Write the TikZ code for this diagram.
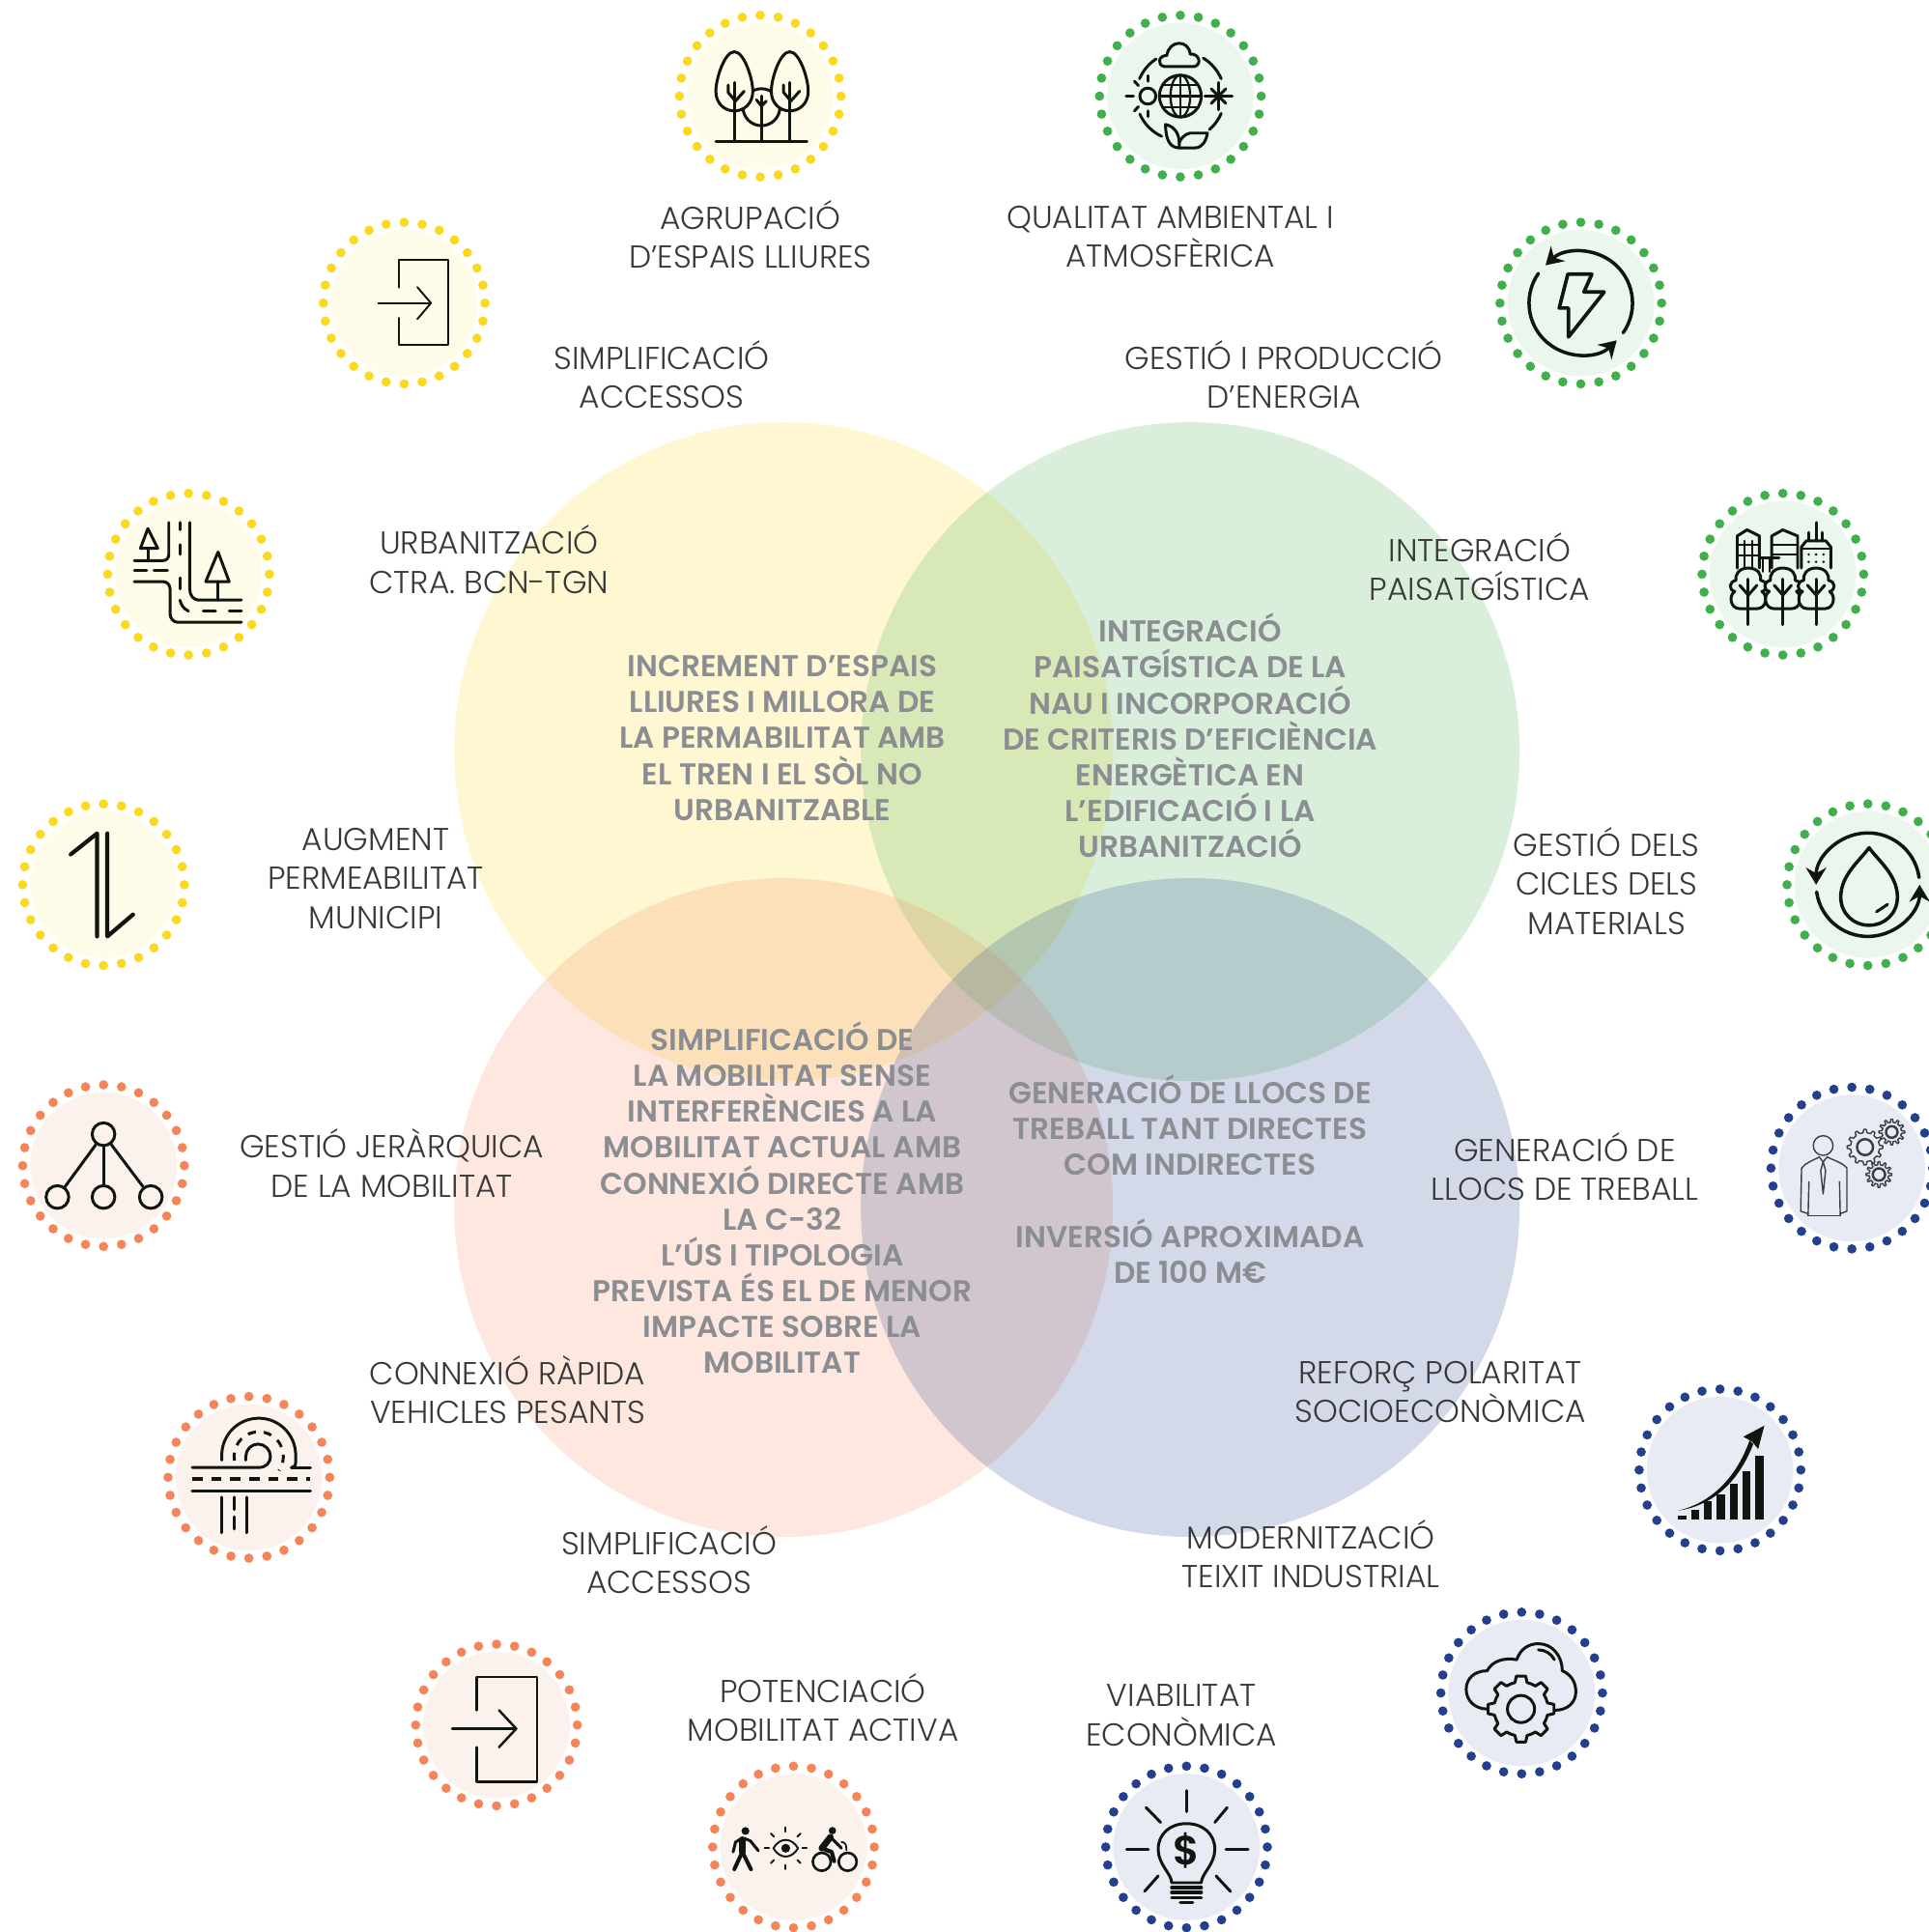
\documentclass[tikz,border=0pt]{standalone}
\usepackage{fontspec}
\setmainfont{Poppins Light}
\newfontfamily\boldface{Poppins SemiBold}
\usetikzlibrary{arrows.meta}

\definecolor{dotyellow}{HTML}{FBD91F}
\definecolor{dotgreen}{HTML}{3FB04B}
\definecolor{dotorange}{HTML}{F58558}
\definecolor{dotblue}{HTML}{23408F}
\definecolor{paleyellow}{HTML}{FEFBE9}
\definecolor{palegreen}{HTML}{EBF6EC}
\definecolor{paleorange}{HTML}{FBF2ED}
\definecolor{paleblue}{HTML}{E8EBF3}
\definecolor{ink}{HTML}{111510}
\definecolor{softink}{HTML}{3A3D42}
\definecolor{lbltext}{HTML}{383838}
\definecolor{venntext}{HTML}{8A8D92}

\tikzset{
	badge/.style={circle, minimum size=1.518cm, inner sep=0pt},
	lbl/.style={align=center, text=lbltext, inner sep=0pt, font=\fontsize{9.34}{11.46}\selectfont},
	venntxt/.style={align=center, text=venntext, inner sep=0pt, font=\boldface\fontsize{8.87}{10.58}\selectfont},
	venn/.style={circle, minimum size=6.82cm, inner sep=0pt, fill opacity=0.2},
	icon/.style={draw=ink, line width=0.85pt, line cap=round, line join=round},
	thinicon/.style={draw=softink, line width=0.4pt, line cap=round, line join=round},
	fatline/.style={draw=ink, line width=1.3pt, line cap=round, line join=round},
	netdot/.style={circle, draw=ink, line width=0.85pt, minimum size=0.235cm, inner sep=0pt},
	ringtip/.style={-{Stealth[length=5pt, width=6pt]}},
}

\newcommand{\dotring}[2]{
	\foreach \a in {0,12.857,...,359}
		\fill[#2] (#1.center) ++(\a:65.6) circle (3.8);
}

\newcommand{\cogwheel}[2]{
	\begin{scope}[shift={#1}]
		\foreach \a in {0,30,...,330}
			\draw[thinicon] ({\a-8}:{#2-2.6}) -- ({\a-4}:#2) -- ({\a+4}:#2) -- ({\a+8}:{#2-2.6}) -- ({\a+22}:{#2-2.6});
	\end{scope}
}

\begin{document}
\begin{tikzpicture}[x=0.012755cm, y=-0.012755cm]
	\useasboundingbox (0,0) rectangle (1565,1568);

	\node[venn, fill=dotyellow] (yellowset) at (636,610) {};
	\node[venn, fill=dotgreen] (greenset) at (966,610) {};
	\node[venn, fill=dotorange] (orangeset) at (636,980) {};
	\node[venn, fill=dotblue] (blueset) at (966,980) {};

	\node[venntxt] (envtext) at (635,599) {INCREMENT D’ESPAIS\\LLIURES I MILLORA DE\\LA PERMABILITAT AMB\\EL TREN I EL SÒL NO\\URBANITZABLE};
	\node[venntxt] (energytext) at (966,597) {INTEGRACIÓ\\PAISATGÍSTICA DE LA\\NAU I INCORPORACIÓ\\DE CRITERIS D’EFICIÈNCIA\\ENERGÈTICA EN\\L’EDIFICACIÓ I LA\\URBANITZACIÓ};
	\node[venntxt] (mobtext) at (635,972) {SIMPLIFICACIÓ DE\\LA MOBILITAT SENSE\\INTERFERÈNCIES A LA\\MOBILITAT ACTUAL AMB\\CONNEXIÓ DIRECTE AMB\\LA C-32\\L’ÚS I TIPOLOGIA\\PREVISTA ÉS EL DE MENOR\\IMPACTE SOBRE LA\\MOBILITAT};
	\node[venntxt] (econtext) at (966,957) {GENERACIÓ DE LLOCS DE\\TREBALL TANT DIRECTES\\COM INDIRECTES\\[10.58pt]INVERSIÓ APROXIMADA\\DE 100 M€};

	\node[badge, fill=paleyellow] (trees) at (617,78) {};
	\node[badge, fill=palegreen] (climate) at (958,78) {};
	\node[badge, fill=paleyellow] (door) at (328,246) {};
	\node[badge, fill=palegreen] (bolt) at (1283,246) {};
	\node[badge, fill=paleyellow] (road) at (153,466) {};
	\node[badge, fill=palegreen] (city) at (1447,466) {};
	\node[badge, fill=paleyellow] (updown) at (84,718) {};
	\node[badge, fill=palegreen] (water) at (1516,718) {};
	\node[badge, fill=paleorange] (network) at (84,946) {};
	\node[badge, fill=paleblue] (worker) at (1503,948) {};
	\node[badge, fill=paleorange] (junction) at (202,1199) {};
	\node[badge, fill=paleblue] (chart) at (1396,1193) {};
	\node[badge, fill=paleorange] (doortwo) at (403,1400) {};
	\node[badge, fill=paleblue] (cloud) at (1235,1374) {};
	\node[badge, fill=paleorange] (active) at (644,1499) {};
	\node[badge, fill=paleblue] (bulb) at (963,1499) {};

	\dotring{trees}{dotyellow}
	\dotring{door}{dotyellow}
	\dotring{road}{dotyellow}
	\dotring{updown}{dotyellow}
	\dotring{climate}{dotgreen}
	\dotring{bolt}{dotgreen}
	\dotring{city}{dotgreen}
	\dotring{water}{dotgreen}
	\dotring{network}{dotorange}
	\dotring{junction}{dotorange}
	\dotring{doortwo}{dotorange}
	\dotring{active}{dotorange}
	\dotring{worker}{dotblue}
	\dotring{chart}{dotblue}
	\dotring{cloud}{dotblue}
	\dotring{bulb}{dotblue}

	\node[lbl] (agrupacio) at (609,190) {AGRUPACIÓ\\D’ESPAIS LLIURES};
	\node[lbl] (qualitat) at (950,192) {QUALITAT AMBIENTAL I\\ATMOSFÈRICA};
	\node[lbl] (accessos) at (537,304) {SIMPLIFICACIÓ\\ACCESSOS};
	\node[lbl] (energia) at (1042,304) {GESTIÓ I PRODUCCIÓ\\D’ENERGIA};
	\node[lbl] (ctra) at (397,454) {URBANITZACIÓ\\CTRA. BCN-TGN};
	\node[lbl] (paisatge) at (1201,460) {INTEGRACIÓ\\PAISATGÍSTICA};
	\node[lbl] (municipi) at (305,713) {AUGMENT\\PERMEABILITAT\\MUNICIPI};
	\node[lbl] (cicles) at (1304,715) {GESTIÓ DELS\\CICLES DELS\\MATERIALS};
	\node[lbl] (jerarquica) at (318,944) {GESTIÓ JERÀRQUICA\\DE LA MOBILITAT};
	\node[lbl] (llocs) at (1270,947) {GENERACIÓ DE\\LLOCS DE TREBALL};
	\node[lbl] (pesants) at (412,1128) {CONNEXIÓ RÀPIDA\\VEHICLES PESANTS};
	\node[lbl] (polaritat) at (1169,1130) {REFORÇ POLARITAT\\SOCIOECONÒMICA};
	\node[lbl] (accessostwo) at (543,1266) {SIMPLIFICACIÓ\\ACCESSOS};
	\node[lbl] (teixit) at (1064,1261) {MODERNITZACIÓ\\TEIXIT INDUSTRIAL};
	\node[lbl] (activa) at (668,1386) {POTENCIACIÓ\\MOBILITAT ACTIVA};
	\node[lbl] (viable) at (959,1392) {VIABILITAT\\ECONÒMICA};

	\begin{scope}[shift={(trees.center)}]
		\draw[icon] (1,9) circle (15);
		\foreach \tx in {-21,24} {
			\draw[icon, fill=paleyellow] (\tx,-36) .. controls (\tx-8,-36) and (\tx-15,-14) .. (\tx-15,-4)
				.. controls (\tx-15,6) and (\tx-8,12) .. (\tx,12)
				.. controls (\tx+8,12) and (\tx+15,6) .. (\tx+15,-4)
				.. controls (\tx+15,-14) and (\tx+8,-36) .. (\tx,-36) -- cycle;
			\draw[icon] (\tx,-11) -- (\tx,37);
			\draw[icon] (\tx-5,-9) -- (\tx-5,-3) -- (\tx,3);
			\draw[icon] (\tx+8,-4) -- (\tx,5);
		}
		\draw[icon] (1,0) -- (1,37);
		\draw[icon] (-3,3) -- (1,8) -- (5,4);
		\draw[icon] (-36,37) -- (38,37);
	\end{scope}

	\begin{scope}[shift={(climate.center)}]
		\draw[icon] (0,0) circle (17);
		\draw[icon, line width=0.65pt] (0,0) ellipse (8 and 17);
		\draw[icon, line width=0.65pt] (0,-17) -- (0,17);
		\draw[icon, line width=0.65pt] (-17,0) -- (17,0);
		\draw[icon, line width=0.65pt] (-14,-9) -- (14,-9);
		\draw[icon, line width=0.65pt] (-14,9) -- (14,9);
		\draw[icon] (-26.4,0) circle (6.5);
		\draw[icon] (-44,0) -- (-38,0);
		\draw[icon] (-26.4,-16.5) -- (-26.4,-12);
		\draw[icon] (-26.4,12) -- (-26.4,16.5);
		\draw[icon] (-37.3,-12) -- (-34,-8.6);
		\draw[icon] (-37.3,12) -- (-34,8.6);
		\draw[icon] (20,0) -- (42,0);
		\draw[icon] (31,-11) -- (31,11);
		\draw[icon] (25,-6) -- (37,6);
		\draw[icon] (25,6) -- (37,-6);
		\draw[icon] (-13,-24) .. controls (-19,-25) and (-18,-33) .. (-11,-33)
			.. controls (-9,-46) and (7,-46) .. (8,-34)
			.. controls (15,-35) and (18,-26) .. (11.5,-24) -- cycle;
		\draw[icon] (203:36) arc[start angle=203, end angle=237, radius=36];
		\draw[icon] (301:36) arc[start angle=301, end angle=337, radius=36];
		\draw[icon] (23:36) arc[start angle=23, end angle=49, radius=36];
		\draw[icon] (115:36) arc[start angle=115, end angle=156, radius=36];
		\draw[icon] (-12,23) .. controls (-3,25) and (0,33) .. (-1,42)
			.. controls (-8,42) and (-12,36) .. (-12,23) -- cycle;
		\draw[icon] (-1,42) -- (12,42) .. controls (18,42) and (21,36) .. (22,30)
			-- (8,30) .. controls (3,31) and (0,35) .. (-1,38);
	\end{scope}

	\begin{scope}[shift={(door.center)}]
		\draw[icon, line width=0.55pt] (-4.4,-12.6) -- (-4.4,-35) -- (35.8,-35) -- (35.8,33.6) -- (-4.4,33.6) -- (-4.4,12);
		\draw[icon, line width=0.55pt] (-21,0) -- (21.8,0);
		\draw[icon, line width=0.55pt] (10.7,-13) -- (21.8,0) -- (10.7,13);
	\end{scope}

	\begin{scope}[shift={(doortwo.center)}]
		\draw[icon, line width=0.7pt] (-16,-12) -- (-16,-39) -- (33,-39) -- (33,46) -- (-16,46) -- (-16,18);
		\draw[icon, line width=0.7pt] (-36,3) -- (16,3);
		\draw[icon, line width=0.7pt] (2,-12) -- (16,3) -- (2,18);
	\end{scope}

	\begin{scope}[shift={(bolt.center)}]
		\draw[icon, line width=1pt, ringtip] (35:42) arc[start angle=35, end angle=-133, radius=42];
		\draw[icon, line width=1pt, ringtip] (215:42) arc[start angle=215, end angle=46, radius=42];
		\draw[icon, line width=1.05pt] (-10.5,-23.5) -- (9,-23.5) -- (2.6,-9) -- (19,-9) -- (-10,27.5) -- (-10,4) -- (-17.5,4) -- cycle;
	\end{scope}

	\begin{scope}[shift={(road.center)}]
		\draw[icon] (-44,-11) -- (-21,-11) .. controls (-18,-11) and (-16,-13) .. (-16,-16) -- (-16,-42);
		\draw[icon] (-33,-37) -- (-39,-21) -- (-25,-21) -- cycle;
		\draw[icon] (-33,-21) -- (-33,-11);
		\draw[icon] (-7,-42) -- (-7,-36);
		\draw[icon] (-7,-24) -- (-7,-16);
		\draw[icon] (-44,-3) -- (-34,-3);
		\draw[icon] (-28,-3) -- (-17,-3);
		\draw[icon] (1,-42) -- (1,12) .. controls (1,17) and (4,21) .. (8,21) -- (43,21);
		\draw[icon] (24,-18) -- (14,6) -- (33,6) -- cycle;
		\draw[icon] (24,6) -- (24,21);
		\draw[icon] (-7,3) -- (-7,12);
		\draw[icon] (-7,21) .. controls (-6,25) and (-4,28) .. (0,30);
		\draw[icon] (12,30) -- (22,30);
		\draw[icon] (33,30) -- (43,30);
		\draw[icon] (-44,6) -- (-21,6) .. controls (-17,6) and (-15,9) .. (-15,12) -- (-15,32) .. controls (-15,36) and (-12,39) .. (-9,39) -- (43,39);
	\end{scope}

	\begin{scope}[shift={(city.center)}]
		\draw[icon] (-37,-5) -- (-37,-31) -- (-29,-36) -- (-19,-31) -- (-19,-5);
		\draw[icon, line width=0.6pt] (-37,-24) -- (-19,-24);
		\draw[icon, line width=0.6pt] (-37,-15) -- (-19,-15);
		\draw[icon, line width=0.6pt] (-31,-27) -- (-31,-5);
		\draw[icon, line width=0.6pt] (-25,-27) -- (-25,-5);
		\draw[icon] (-9,-5) -- (-9,-31) -- (0,-36) -- (12,-31) -- (12,-5);
		\draw[icon, line width=0.6pt] (-9,-24) -- (12,-24);
		\draw[icon, line width=0.6pt] (-9,-16) -- (12,-16);
		\draw[icon] (15,-5) -- (15,-22) -- (19,-27) -- (35,-27) -- (39,-22) -- (39,-5);
		\draw[icon] (27,-42) -- (27,-27);
		\draw[icon] (21,-34) -- (21,-27);
		\draw[icon] (32,-34) -- (32,-27);
		\draw[icon, line width=0.6pt] (15,-21) -- (39,-21);
		\foreach \wx in {21,27,33}
			\foreach \wy in {-16,-10}
				\fill[ink] (\wx,\wy) circle (1.1);
		\draw[icon] (-19,-13) -- (-3,-13);
		\draw[icon, line width=0.6pt] (-16,-13) -- (-16,-2);
		\draw[icon, line width=0.6pt] (-11,-13) -- (-11,-2);
		\foreach \tx in {-28,0,27} {
			\draw[icon, fill=palegreen] (\tx,-5) .. controls (\tx+8,-5) and (\tx+11,1) .. (\tx+10,5)
				.. controls (\tx+16,6) and (\tx+16,13) .. (\tx+11,14)
				.. controls (\tx+16,17) and (\tx+15,28) .. (\tx+7,28) -- (\tx-7,28)
				.. controls (\tx-15,28) and (\tx-16,17) .. (\tx-11,14)
				.. controls (\tx-16,13) and (\tx-16,6) .. (\tx-10,5)
				.. controls (\tx-11,1) and (\tx-8,-5) .. (\tx,-5) -- cycle;
			\draw[icon] (\tx,4) -- (\tx,41);
			\draw[icon] (\tx-7,9) -- (\tx,17) -- (\tx+7,9);
		}
	\end{scope}

	\begin{scope}[shift={(updown.center)}]
		\draw[fatline, line width=1.2pt] (-5.2,42) -- (-5.2,-41.6) -- (-26.6,-24.6);
		\draw[fatline, line width=1.2pt] (3.1,-41.6) -- (3.1,42) -- (24,24.2);
	\end{scope}

	\begin{scope}[shift={(water.center)}]
		\draw[icon, line width=1pt, ringtip] (-8:42) arc[start angle=-8, end angle=-180, radius=42];
		\draw[icon, line width=1pt, ringtip] (172:42) arc[start angle=172, end angle=0, radius=42];
		\draw[icon, line width=1pt] (1,-30) .. controls (-6,-20) and (-22,-8) .. (-22,10)
			.. controls (-22,24) and (-11,33) .. (1,33)
			.. controls (13,33) and (24,24) .. (24,10)
			.. controls (24,-8) and (8,-20) .. (1,-30) -- cycle;
		\draw[icon] (7,22) -- (16,16);
	\end{scope}

	\begin{scope}[shift={(network.center)}]
		\node[netdot] (nettop) at (0,-25.5) {};
		\node[netdot] (netleft) at (-37.4,25.5) {};
		\node[netdot] (netmid) at (0,25.5) {};
		\node[netdot] (netright) at (38.4,25.5) {};
		\draw[icon] (nettop) -- (netleft);
		\draw[icon] (nettop) -- (netmid);
		\draw[icon] (nettop) -- (netright);
	\end{scope}

	\begin{scope}[shift={(worker.center)}]
		\draw[thinicon] (-23.3,-18.3) circle (8);
		\draw[thinicon] (-35.5,37) -- (-41.5,35) -- (-40.8,0) .. controls (-38,-4) and (-32,-6) .. (-26.4,-9) -- (-23.3,-5) -- (-20,-9) .. controls (-14,-6) and (-7,-4) .. (-4,0) -- (-4,35) -- (-9.4,37);
		\draw[thinicon] (-35.5,38.7) -- (-9.4,38.7);
		\draw[thinicon] (-34.8,11) -- (-35.5,38.7);
		\draw[thinicon] (-10,11) -- (-9.4,38.7);
		\draw[thinicon] (-23.3,-5) -- (-25.3,2) -- (-23.3,21) -- (-21.3,2) -- cycle;
		\cogwheel{(10.7,-17)}{14.4}
		\draw[thinicon, line width=0.7pt] (10.7,-17) circle (6.5);
		\cogwheel{(32.4,-29.3)}{10.5}
		\draw[thinicon, line width=0.7pt] (32.4,-29.3) circle (4.7);
		\cogwheel{(22,5.2)}{10.5}
		\draw[thinicon, line width=0.7pt] (22,5.2) circle (5);
	\end{scope}

	\begin{scope}[shift={(junction.center)}]
		\draw[icon] (-46,-8) -- (8,-8) .. controls (14,-8) and (17.5,-12) .. (17.5,-17) arc[start angle=0, end angle=-180, radius=10] -- (-2.5,-14);
		\draw[icon] (34.5,-8) -- (50,-8);
		\draw[icon, line width=0.95pt, dash pattern=on 3pt off 2.6pt, line cap=butt] (-46,1.3) -- (50,1.3);
		\draw[icon] (-46,11) -- (50,11);
		\draw[icon] (-22,-14) -- (-22,-18) arc[start angle=180, end angle=360, radius=30] -- (38,-12) .. controls (38,-9) and (36,-8) .. (34.5,-8);
		\draw[icon, dash pattern=on 2.4pt off 2.3pt, line cap=butt] (8,-17) ++(170:20) arc[start angle=170, end angle=395, radius=20];
		\draw[icon] (-21.7,16) -- (-21.7,45);
		\draw[icon] (-2,16) -- (-2,45);
		\draw[icon] (-11.8,16) -- (-11.8,26);
		\draw[icon] (-11.8,32) -- (-11.8,42);
	\end{scope}

	\begin{scope}[shift={(chart.center)}]
		\fill[ink] (-34,37.4) rectangle (-27.3,40);
		\fill[ink] (-23.3,32.3) rectangle (-16.7,40);
		\fill[ink] (-13,25.5) rectangle (-6.4,40);
		\fill[ink] (-2.5,19.6) rectangle (4.1,40);
		\fill[ink] (7.9,11) rectangle (14.5,40);
		\fill[ink] (18.3,1.3) rectangle (24.9,40);
		\fill[ink] (28.7,-11.5) rectangle (35.3,40);
		\fill[ink] (-34,33) .. controls (-8,27) and (13,7) .. (24,-24)
			-- (27,-21) .. controls (15,10) and (-6,29) .. (-34,33) -- cycle;
		\fill[ink] (36,-36) -- (19,-27) -- (26,-23) -- (31,-17) -- cycle;
	\end{scope}

	\begin{scope}[shift={(cloud.center)}]
		\draw[icon] (-28,13) .. controls (-38,13) and (-45,6) .. (-45,-3)
			.. controls (-45,-12) and (-38,-18) .. (-28,-18)
			.. controls (-24,-26) and (-14,-29) .. (-4,-27)
			.. controls (-1,-36) and (6,-40) .. (13.6,-40)
			.. controls (25,-40) and (33,-30) .. (33,-18)
			.. controls (40,-15) and (44,-9) .. (44,-1)
			.. controls (44,8) and (37,14) .. (27,14);
		\draw[icon] (13.6,-35) .. controls (19,-35) and (24,-32) .. (26.6,-27);
		\begin{scope}[shift={(-0.5,13)}]
			\draw[icon] (0,0) circle (11);
			\foreach \a in {0,45,...,315}
				\draw[icon] ({\a-13}:22) -- ({\a-8}:27) -- ({\a+8}:27) -- ({\a+13}:22) arc[start angle=\a+13, end angle=\a+32, radius=22];
		\end{scope}
	\end{scope}

	\begin{scope}[shift={(active.center)}]
		\fill[ink] (-39,-13) circle (3.2);
		\draw[fatline, line width=1.9pt] (-41.5,-6) -- (-41.5,4);
		\draw[fatline, line width=1.15pt] (-41.5,4) -- (-48,18);
		\draw[fatline, line width=1.15pt] (-41.5,4) -- (-34.5,18);
		\draw[fatline, line width=0.85pt] (-40,-7) -- (-35,-5) -- (-28.5,3);
		\draw[fatline, line width=0.85pt] (-42,-7) -- (-47,-4) -- (-49,4);
		\draw[icon, line width=0.55pt] (-16.3,1) .. controls (-11,-8) and (-1.6,-8) .. (3.7,1)
			.. controls (-1.6,10) and (-11,10) .. (-16.3,1) -- cycle;
		\fill[ink] (-6.3,1) circle (3.6);
		\foreach \a in {0,45,...,315}
			\draw[icon, line width=0.55pt] (-6.3,1) ++(\a:13.5) -- ++(\a:3.5);
		\fill[ink] (31.6,-13.3) circle (3);
		\draw[fatline, line width=1.9pt] (30,-8) -- (23,1);
		\draw[fatline, line width=1.2pt] (23,1) -- (31,4) -- (33,11.5);
		\draw[fatline, line width=0.85pt] (30,-8) -- (39,1);
		\draw[icon, line width=0.5pt] (39,-4) .. controls (42,-4) and (43,-2) .. (43,2.6);
		\draw[icon, line width=0.75pt] (23,12) circle (7.3);
		\draw[icon, line width=0.75pt] (44,12) circle (7.3);
	\end{scope}

	\begin{scope}[shift={(bulb.center)}]
		\draw[icon] (0,-45.7) -- (0,-28.8);
		\draw[icon] (-32.8,-32) -- (-21,-20);
		\draw[icon] (33,-32) -- (23,-20);
		\draw[icon] (-48.5,2) -- (-31,2);
		\draw[icon] (32,2) -- (50,2);
		\draw[icon] (-34,36) -- (-23,23.5);
		\draw[icon] (35.6,36) -- (24,23.5);
		\draw[icon] (-12,29) .. controls (-12,22) and (-23,14) .. (-23,2)
			.. controls (-23,-11) and (-13,-19) .. (0,-19)
			.. controls (13,-19) and (23,-11) .. (23,2)
			.. controls (23,14) and (12,22) .. (12,29) -- cycle;
		\draw[icon, line width=1pt] (-12,33) -- (12,33);
		\draw[icon, line width=1pt] (-12,37) -- (12,37);
		\draw[icon, line width=1pt] (-12,41) -- (12,41);
		\draw[icon, line width=1pt] (-5,45) -- (5,45);
		\node[text=ink, inner sep=0pt, font=\boldface\fontsize{12}{12}\selectfont] (dollar) at (0,3) {\$};
	\end{scope}
\end{tikzpicture}
\end{document}
